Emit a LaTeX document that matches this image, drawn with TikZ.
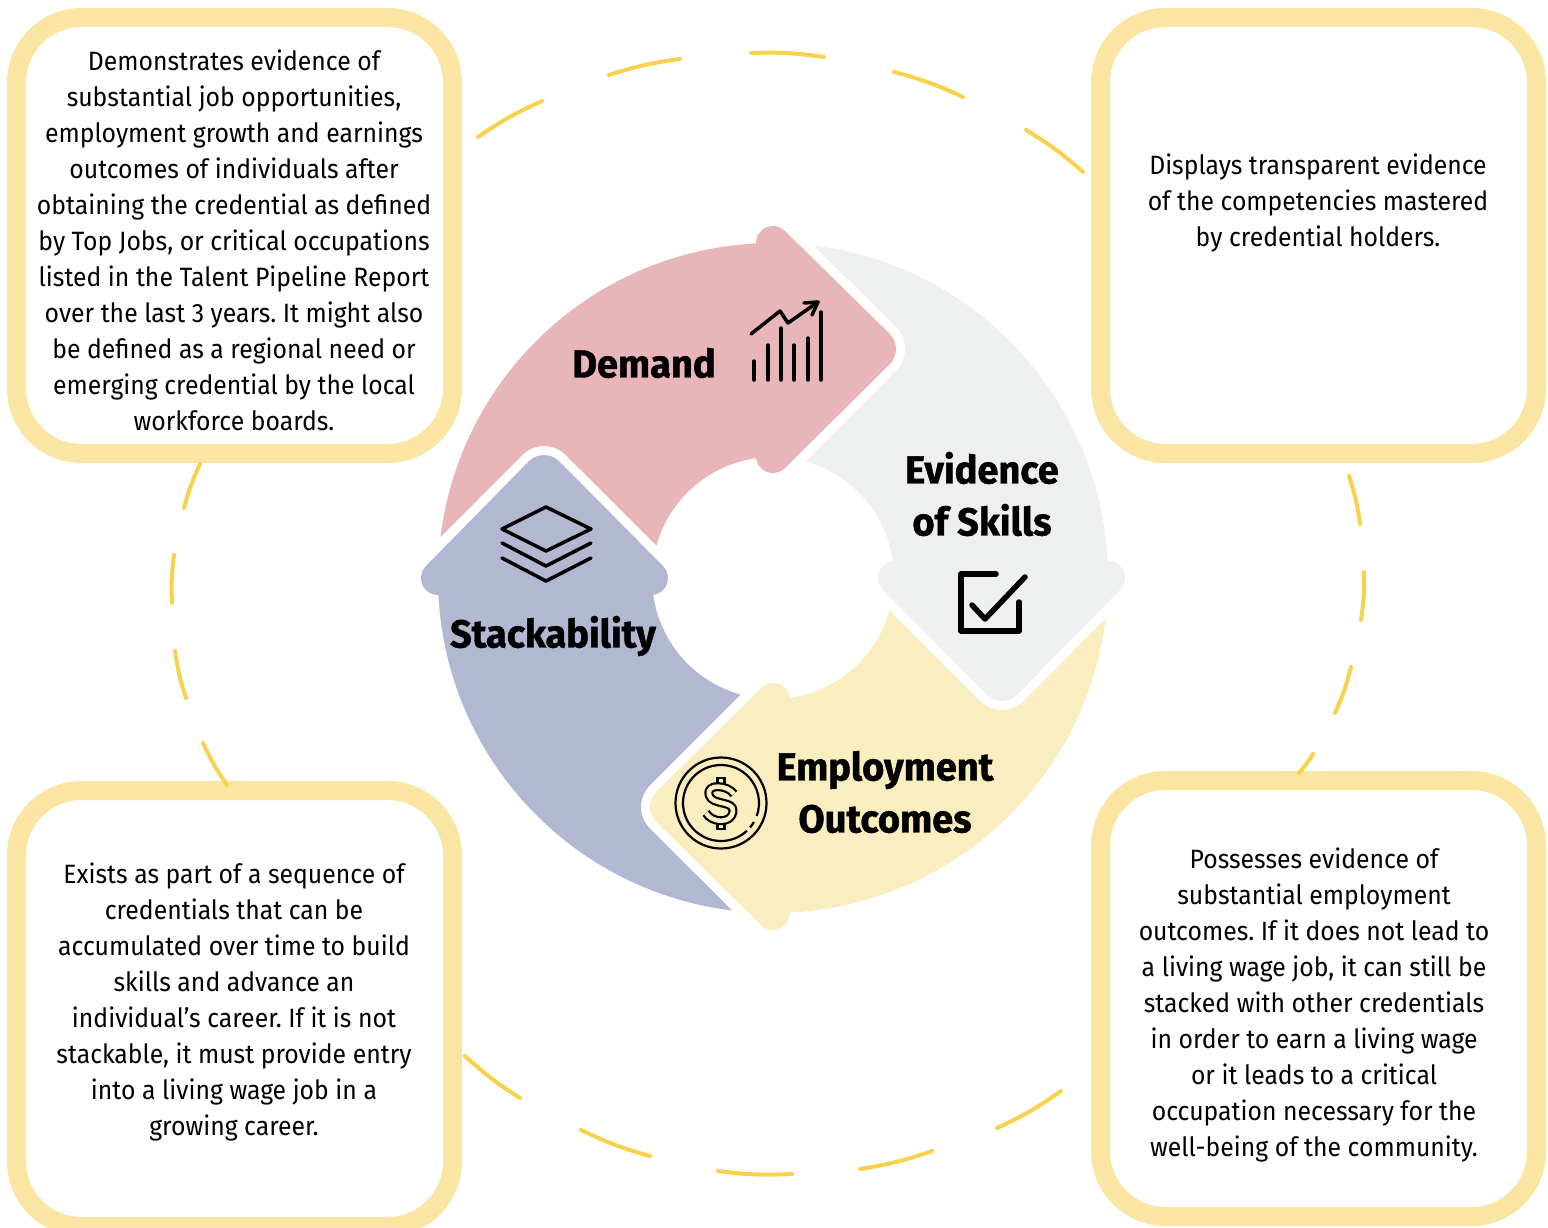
\documentclass[tikz,border=0pt]{standalone}
\usepackage{fontspec}
\setmainfont[FakeStretch=0.935]{Fira Sans}
\newfontfamily\headfont[FakeBold=1.1,FakeStretch=0.975]{Fira Sans Bold}
\frenchspacing

\definecolor{boxyellow}{HTML}{FAE6A2}
\definecolor{ringyellow}{HTML}{F8D24C}
\definecolor{demandpink}{HTML}{E8B5B9}
\definecolor{skillsgray}{HTML}{EEF0EF}
\definecolor{outcomeyellow}{HTML}{FAEDBF}
\definecolor{stackblue}{HTML}{B2B8D2}

\tikzset{
  infobox/.style={draw=boxyellow, fill=white, line width=19pt, rounded corners=65pt,
    minimum width=436pt, minimum height=436pt, inner sep=0pt},
  bodytext/.style={align=center, inner sep=0pt, font=\fontsize{26.5}{36}\selectfont},
  headtext/.style={align=center, inner sep=0pt, font=\headfont\fontsize{39}{52}\selectfont},
  ringdash/.style={draw=ringyellow, line width=4pt, line cap=round},
  iconline/.style={draw=black, line width=3.5pt, line cap=round, line join=round}
}

\begin{document}
\begin{tikzpicture}[x=1pt, y=-1pt]
        \useasboundingbox (0,0) rectangle (1548,1228);

        % Boxes
        \node[infobox] (demandbox) at (234.5,235.5) {};
        \node[infobox] (skillsbox) at (1318.5,235.5) {};
        \node[infobox] (stackbox) at (234.5,1008.5) {};
        \node[infobox] (outcomebox) at (1318.5,998.5) {};

        % Dashed ring
        \foreach \xa/\ya/\xb/\yb in {478/137/542/101, 609/75/680/59, 751/53/824/57, 894/72/963/97,
            1026/130/1083/172, 1349/476/1360/524, 1364/572/1361/620, 1351/667/1335/713,
            1313/754/1299/773, 1061/1091/997/1128, 932/1151/860/1169, 792/1174/718/1171,
            650/1156/581/1130, 520/1098/465/1056, 227/785/203/743, 186/698/175/651,
            172/603/174/555, 184/508/200/464}
            \draw[ringdash] (\xa,\ya) to[bend left=5] (\xb,\yb);

        % Four arrows of the cycle
        \foreach \ang/\col in {0/demandpink, -90/skillsgray, -180/outcomeyellow, -270/stackblue}
            \fill[\col, shift={(773,578)}, rotate=\ang]
                (187:335) arc [start angle=187, end angle=267.1, radius=335]
                -- (-17,-335) arc [start angle=180, end angle=315, radius=17]
                -- (116.6,-244.3) arc [start angle=315, end angle=405, radius=21.7]
                -- (12,-110) arc [start angle=45, end angle=180, radius=17]
                -- (262:121) arc [start angle=262, end angle=195.6, radius=121]
                -- (-207.3,-123) arc [start angle=315, end angle=225, radius=30.7]
                -- cycle;

        % Chart icon
        \foreach \xb/\yb in {754/361, 768/345, 781/328, 794/345, 808/338, 821/312}
            \draw[iconline] (\xb,380) -- (\xb,\yb);
        \draw[iconline] (751,334) -- (780,311) -- (788,323) -- (818,302);
        \draw[iconline] (804,303) -- (818,302) -- (812,315);

        % Layers icon
        \draw[iconline] (546,507) -- (591,529) -- (546,551) -- (502,529) -- cycle;
        \draw[iconline] (502,543) -- (546,566) -- (591,543);
        \draw[iconline] (502,558) -- (546,581) -- (591,558);

        % Checkbox icon
        \draw[iconline, line width=5.5pt] (996,574) -- (961,574) -- (961,631) -- (1019,631) -- (1019,602);
        \draw[iconline, line width=5.5pt] (972,605) -- (985,619) -- (1025,577);

        % Coin icon
        \draw[line width=2.2pt] (721,803) circle [radius=45.5];
        \draw[line width=2.2pt] (721,803) ++(47:38) arc [start angle=47, end angle=380, radius=38];
        \draw[line width=2.2pt] (721,803) ++(30:38) arc [start angle=30, end angle=40, radius=38];
        \filldraw[fill=outcomeyellow, line width=2.2pt] (717.5,778) rectangle (724.5,788);
        \filldraw[fill=outcomeyellow, line width=2.2pt] (717.5,819) rectangle (724.5,829);
        \draw[black, line width=9pt, line join=round,
              postaction={draw=outcomeyellow, line width=4.6pt}]
            (734,794) .. controls (728,785) and (706,783) .. (709,795)
            .. controls (712,806) and (735,800) .. (733,812)
            .. controls (731,824) and (712,823) .. (706,813);

        % Arrow labels
        \node[headtext] (demandlabel) at (644,363) {Demand};
        \node[headtext] (skillslabel) at (982,494) {Evidence\\of Skills};
        \node[headtext] (outcomelabel) at (885,792) {Employment\\Outcomes};
        \node[headtext] (stacklabel) at (553,636) {Stackability};

        % Box texts
        \node[bodytext] (demandtext) at (234,240) {Demonstrates evidence of\\substantial job opportunities,\\employment growth and earnings\\outcomes of individuals after\\obtaining the credential as defined\\by Top Jobs, or critical occupations\\listed in the Talent Pipeline Report\\over the last 3 years. It might also\\be defined as a regional need or\\emerging credential by the local\\workforce boards.};
        \node[bodytext] (skillstext) at (1318,203) {Displays transparent evidence\\of the competencies mastered\\by credential holders.};
        \node[bodytext] (stacktext) at (234,1002) {Exists as part of a sequence of\\credentials that can be\\accumulated over time to build\\skills and advance an\\individual’s career. If it is not\\stackable, it must provide entry\\into a living wage job in a\\growing career.};
        \node[bodytext] (outcometext) at (1314,1005) {Possesses evidence of\\substantial employment\\outcomes. If it does not lead to\\a living wage job, it can still be\\stacked with other credentials\\in order to earn a living wage\\or it leads to a critical\\occupation necessary for the\\well-being of the community.};
\end{tikzpicture}
\end{document}
